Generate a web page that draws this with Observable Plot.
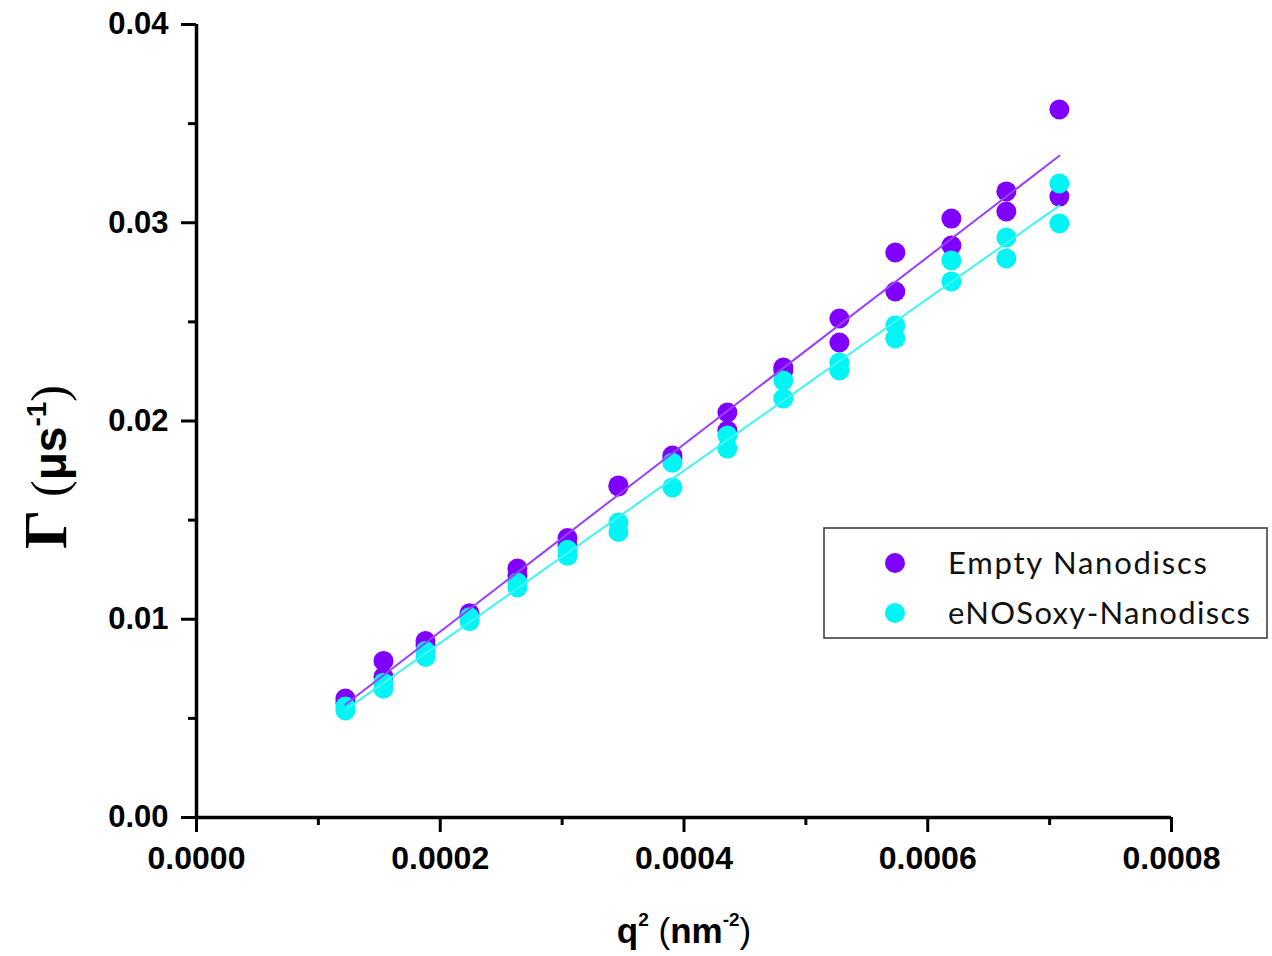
<!DOCTYPE html>
<html>
<head>
<meta charset="utf-8">
<script src="https://cdn.jsdelivr.net/npm/d3@7"></script>
<script src="https://cdn.jsdelivr.net/npm/@observablehq/plot@0.6"></script>
<style>
  html, body { margin: 0; padding: 0; background: white; }
  #chart { width: 1272px; height: 956px; }
</style>
</head>
<body>
<div id="chart"></div>
<script>
// q^2 values (nm^-2)
const q2 = [0.0001222, 0.0001534, 0.0001879, 0.0002240, 0.0002633, 0.0003044, 0.0003462,
            0.0003905, 0.0004356, 0.0004815, 0.0005275, 0.0005734, 0.0006194, 0.0006645, 0.0007080];
// Empty Nanodiscs, two replicates
const emptyA = [0.0060, 0.0079, 0.0089, 0.0103, 0.01256, 0.0141, 0.01675, 0.01826, 0.02043, 0.0227, 0.02517, 0.0285, 0.03021, 0.03158, 0.03571];
const emptyB = [0.0058, 0.0071, 0.0087, 0.0102, 0.0122, 0.0137, 0.0167, 0.0181, 0.01952, 0.02255, 0.02396, 0.02653, 0.02885, 0.03057, 0.03132];
// eNOSoxy-Nanodiscs, two replicates
const enosA = [0.0056, 0.0068, 0.0084, 0.0101, 0.01185, 0.0135, 0.01488, 0.0179, 0.01927, 0.02204, 0.02295, 0.02482, 0.0281, 0.02926, 0.03198];
const enosB = [0.0054, 0.0065, 0.0081, 0.0099, 0.0116, 0.0132, 0.0144, 0.01665, 0.01861, 0.02113, 0.02255, 0.02416, 0.02704, 0.0282, 0.02996];

const xTicks = [0, 0.0002, 0.0004, 0.0006, 0.0008];
const xMinor = [0.0001, 0.0003, 0.0005, 0.0007];
const yTicks = [0, 0.01, 0.02, 0.03, 0.04];
const yMinor = [0.005, 0.015, 0.025, 0.035];

const seriesNames = ["Empty Nanodiscs", "eNOSoxy-Nanodiscs"];
const dotColors = ["#7f00ff", "#00f5f5"];
const lineColors = ["#9a40ff", "#40f5f5"];

const emptyData = q2.flatMap((x, i) => [{x, y: emptyA[i]}, {x, y: emptyB[i]}]);
const enosData = q2.flatMap((x, i) => [{x, y: enosA[i]}, {x, y: enosB[i]}]);

const chart = Plot.plot({
  width: 1272,
  height: 956,
  marginLeft: 196,
  marginRight: 101,
  marginTop: 24,
  marginBottom: 139,
  style: {fontFamily: "'Liberation Sans', Arial, sans-serif", background: "white", color: "black"},
  x: {domain: [0, 0.0008]},
  y: {domain: [0, 0.04]},
  marks: [
    Plot.axisX(xTicks, {tickSize: 15, tickPadding: 14, strokeWidth: 3, tickFormat: d => d.toFixed(4),
      fontSize: 32, fontWeight: "bold", label: null}),
    Plot.axisX(xMinor, {tickSize: 8, strokeWidth: 3, tickFormat: () => "", label: null}),
    Plot.axisY(yTicks, {tickSize: 15, tickPadding: 13, strokeWidth: 3, tickFormat: d => d.toFixed(2),
      fontSize: 31, fontWeight: "bold", label: null}),
    Plot.axisY(yMinor, {tickSize: 8, strokeWidth: 3, tickFormat: () => "", label: null}),
    Plot.ruleX([0], {stroke: "black", strokeWidth: 3.5}),
    Plot.ruleY([0], {stroke: "black", strokeWidth: 3.5}),
    Plot.dot(emptyData, {x: "x", y: "y", r: 10, fill: dotColors[0], stroke: "none"}),
    Plot.dot(enosData, {x: "x", y: "y", r: 10, fill: dotColors[1], stroke: "none"}),
    Plot.linearRegressionY(emptyData, {x: "x", y: "y", stroke: lineColors[0], strokeWidth: 2, ci: 0}),
    Plot.linearRegressionY(enosData, {x: "x", y: "y", stroke: lineColors[1], strokeWidth: 2, ci: 0})
  ]
});

const svg = d3.select(chart);

// Axis titles
const yl = svg.append("text")
  .attr("transform", "translate(66,467) rotate(-90)")
  .attr("text-anchor", "middle")
  .attr("fill", "black");
yl.append("tspan").attr("font-family", "'Liberation Serif', 'DejaVu Serif', serif").attr("font-weight", "bold").attr("font-size", 62).text("Γ");
yl.append("tspan").attr("font-family", "'Liberation Serif', serif").attr("font-size", 50).text(" (");
yl.append("tspan").attr("font-family", "'Liberation Sans', Arial, sans-serif").attr("font-weight", "bold").attr("font-size", 46).text("μs");
yl.append("tspan").attr("font-family", "'Liberation Sans', Arial, sans-serif").attr("font-weight", "bold").attr("font-size", 28).attr("dy", -20).text("-1");
yl.append("tspan").attr("font-family", "'Liberation Serif', serif").attr("font-size", 50).attr("dy", 20).text(")");

const xl = svg.append("text")
  .attr("x", 684).attr("y", 943)
  .attr("text-anchor", "middle")
  .attr("font-family", "'Liberation Sans', Arial, sans-serif")
  .attr("font-weight", "bold")
  .attr("font-size", 35)
  .attr("fill", "black");
xl.append("tspan").text("q");
xl.append("tspan").attr("font-size", 19).attr("dy", -17).text("2");
xl.append("tspan").attr("dy", 17).attr("font-weight", "normal").text(" (");
xl.append("tspan").text("nm");
xl.append("tspan").attr("font-size", 19).attr("dy", -17).text("-2");
xl.append("tspan").attr("dy", 17).attr("font-weight", "normal").text(")");

// Legend
const legendWidths = [259, 302];
const lg = svg.append("g");
lg.append("rect").attr("x", 824).attr("y", 528).attr("width", 443).attr("height", 110)
  .attr("fill", "white").attr("stroke", "#333").attr("stroke-width", 1.5);
seriesNames.forEach((name, i) => {
  const cy = 563 + i * 50;
  lg.append("circle").attr("cx", 895).attr("cy", cy).attr("r", 10).attr("fill", dotColors[i]);
  lg.append("text").attr("x", 948).attr("y", cy + 11)
    .attr("text-anchor", "start")
    .attr("font-family", "Lato, 'Open Sans', sans-serif").attr("font-size", 31)
    .attr("textLength", legendWidths[i]).attr("lengthAdjust", "spacing")
    .attr("fill", "#111").text(name);
});

document.getElementById("chart").appendChild(chart);
</script>
</body>
</html>
